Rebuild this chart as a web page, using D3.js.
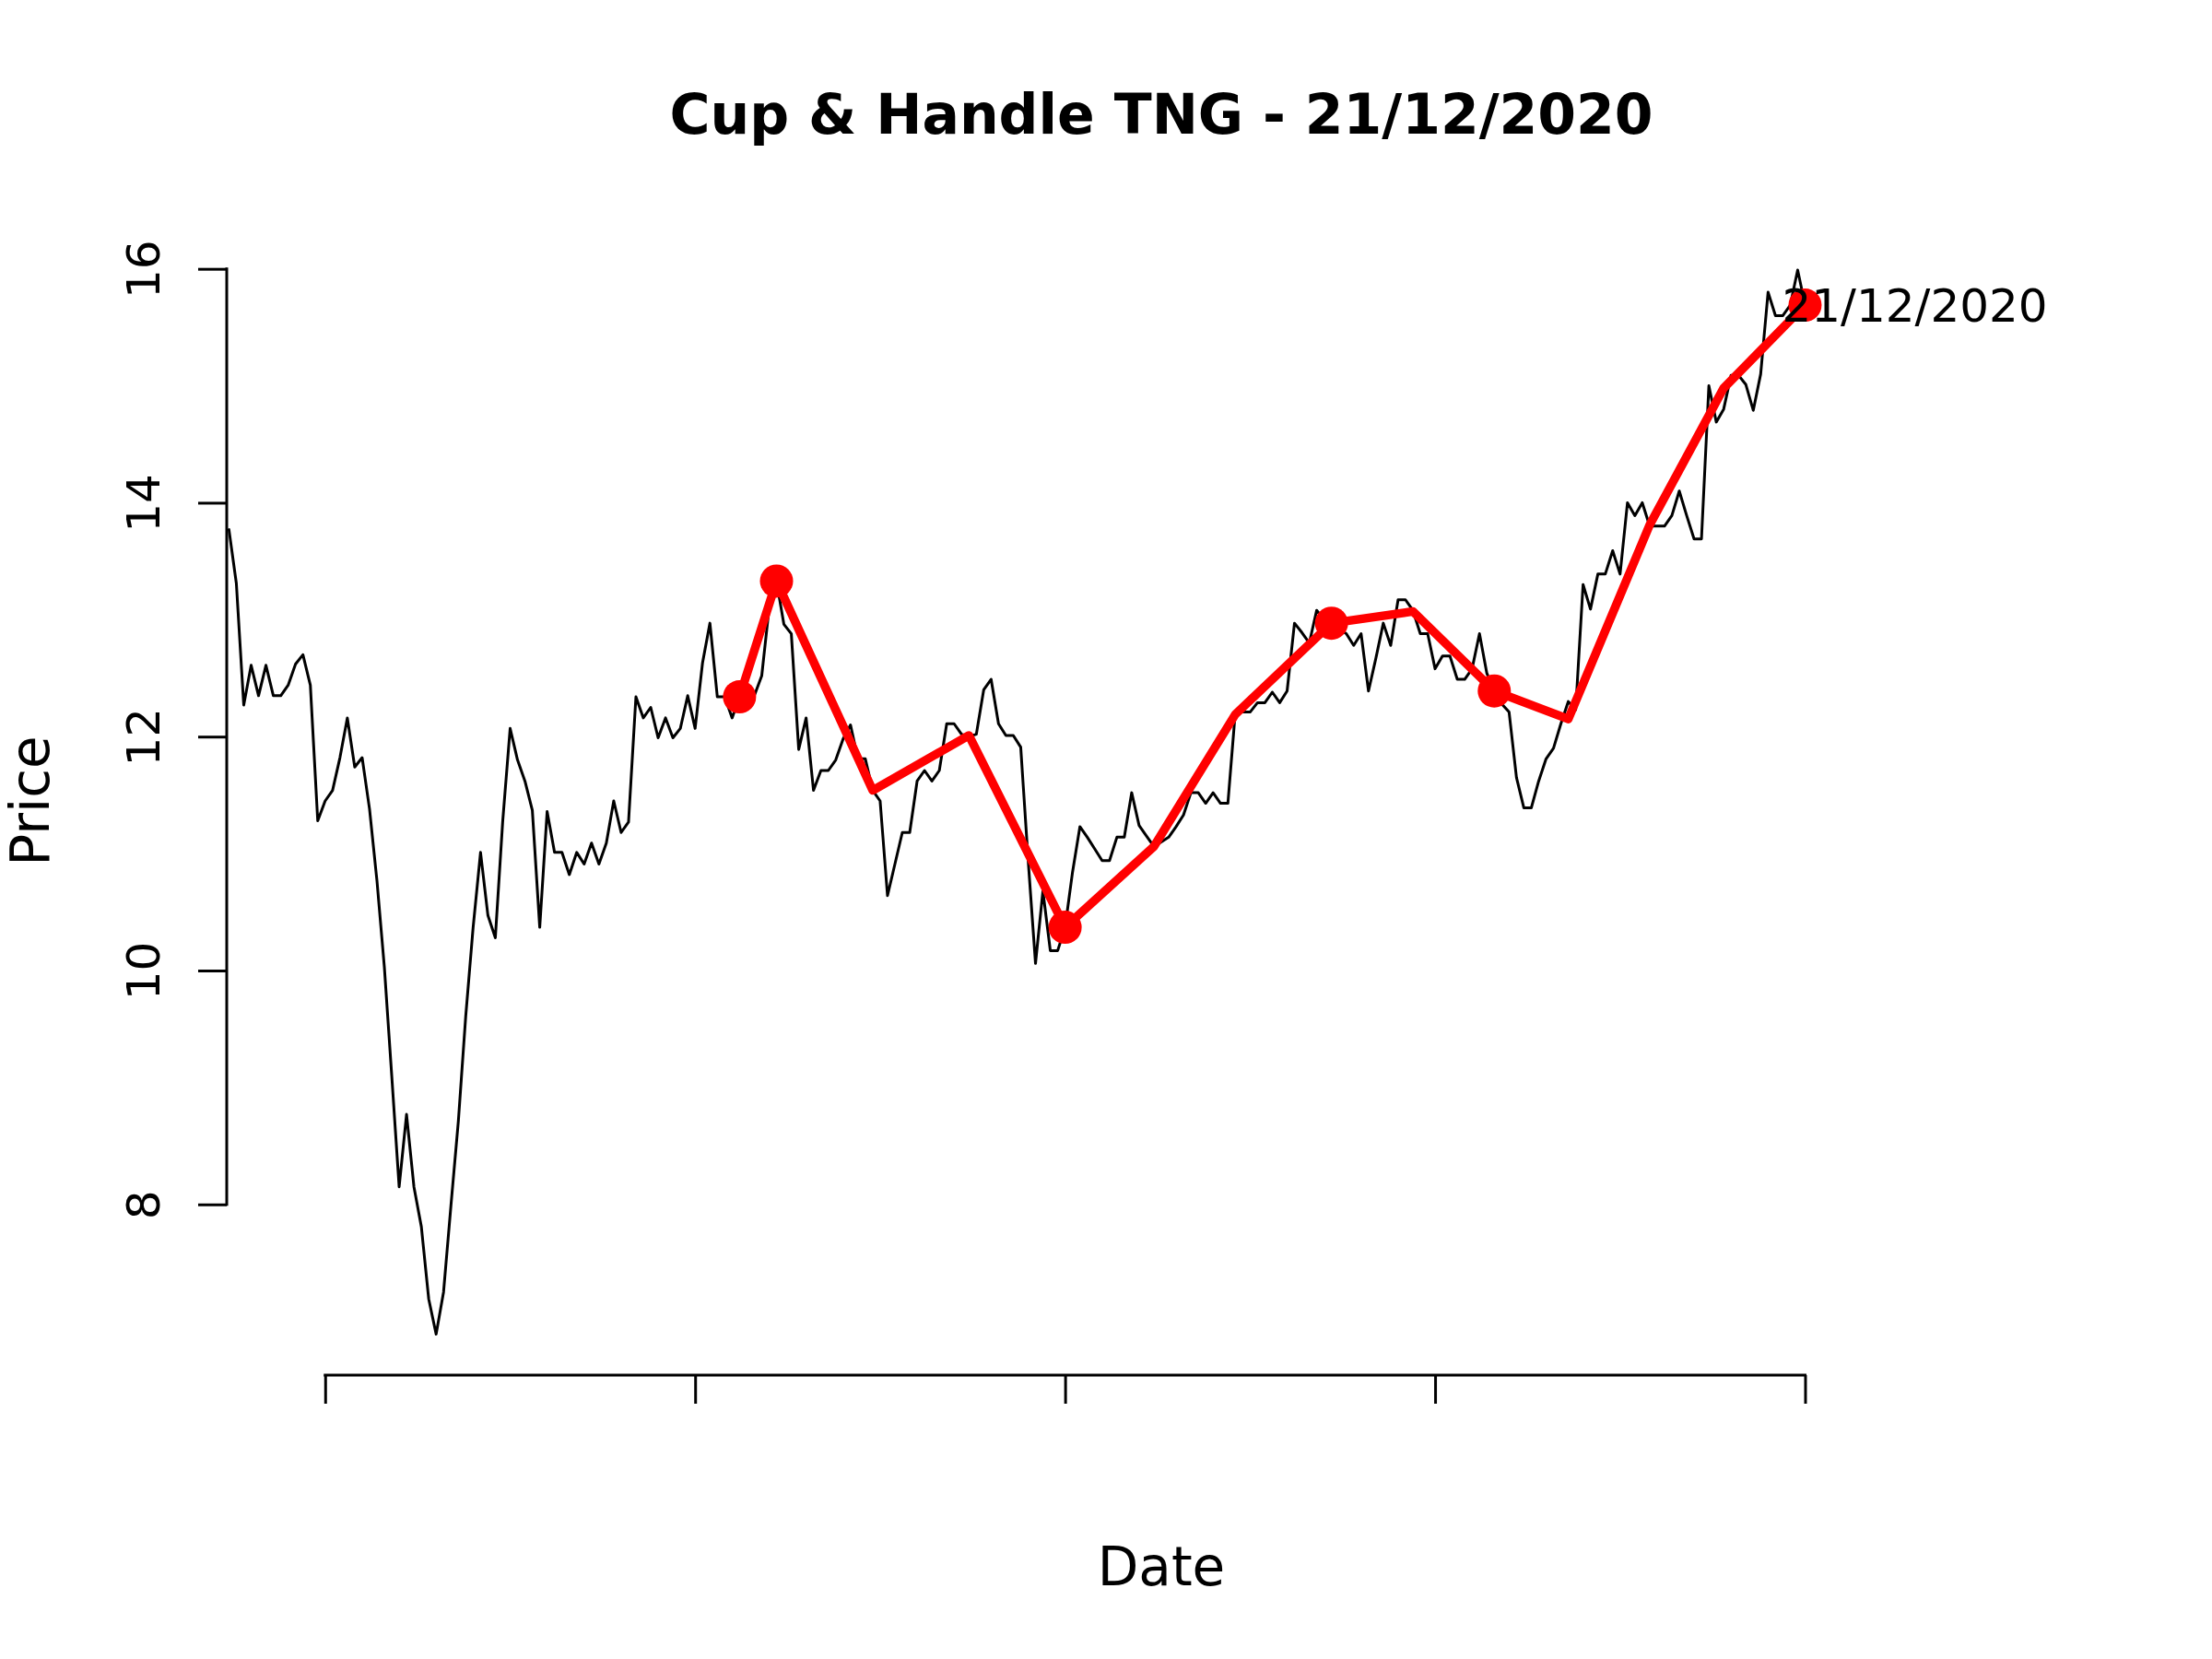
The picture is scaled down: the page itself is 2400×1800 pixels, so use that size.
<!DOCTYPE html>
<html>
<head>
<meta charset="utf-8">
<script src="https://d3js.org/d3.v7.min.js"></script>
<style>
  html, body { margin: 0; padding: 0; background: #ffffff; }
  svg { display: block; }
</style>
</head>
<body>
<script>
// ---------------- data ----------------
const chartTitle = "Cup & Handle TNG - 21/12/2020";
const xLabel = "Date";
const yLabel = "Price";
const endLabel = "21/12/2020";

// daily closing prices, one per trading day (index = day number)
const prices = [
  13.77, 13.31, 12.27, 12.61, 12.35, 12.61, 12.35, 12.35, 12.44, 12.62,
  12.70, 12.44, 11.28, 11.45, 11.54, 11.82, 12.16, 11.74, 11.82, 11.38,
  10.77, 10.03, 9.10, 8.15, 8.77, 8.15, 7.81, 7.19, 6.89, 7.25,
  7.99, 8.71, 9.61, 10.37, 11.01, 10.47, 10.28, 11.28, 12.07, 11.80,
  11.62, 11.37, 10.37, 11.36, 11.01, 11.01, 10.82, 11.01, 10.91, 11.09,
  10.91, 11.09, 11.45, 11.18, 11.27, 12.34, 12.16, 12.25, 11.99, 12.16,
  11.99, 12.07, 12.35, 12.07, 12.63, 12.97, 12.34, 12.34, 12.16, 12.34,
  12.35, 12.35, 12.52, 13.10, 13.33, 12.96, 12.88, 11.89, 12.16, 11.54,
  11.71, 11.71, 11.80, 11.98, 12.10, 11.81, 11.81, 11.54, 11.45, 10.64,
  10.91, 11.18, 11.18, 11.62, 11.71, 11.62, 11.71, 12.11, 12.11, 12.02,
  12.00, 12.02, 12.40, 12.49, 12.11, 12.01, 12.01, 11.91, 10.95, 10.06,
  10.68, 10.17, 10.17, 10.37, 10.84, 11.23, 11.14, 11.04, 10.94, 10.94,
  11.14, 11.14, 11.52, 11.24, 11.15, 11.06, 11.10, 11.14, 11.23, 11.33,
  11.52, 11.52, 11.43, 11.52, 11.43, 11.43, 12.21, 12.21, 12.21, 12.29,
  12.29, 12.38, 12.29, 12.39, 12.97, 12.89, 12.80, 13.08, 13.00, 12.97,
  12.92, 12.88, 12.78, 12.88, 12.39, 12.67, 12.97, 12.78, 13.17, 13.17,
  13.08, 12.88, 12.88, 12.58, 12.69, 12.69, 12.49, 12.49, 12.58, 12.88,
  12.54, 12.39, 12.28, 12.21, 11.65, 11.39, 11.39, 11.62, 11.81, 11.90,
  12.11, 12.30, 12.23, 13.30, 13.09, 13.39, 13.39, 13.59, 13.39, 14.00,
  13.89, 14.00, 13.80, 13.80, 13.80, 13.89, 14.10, 13.89, 13.69, 13.69,
  15.00, 14.69, 14.80, 15.09, 15.09, 15.01, 14.79, 15.10, 15.80, 15.60,
  15.60, 15.69, 15.99, 15.69
];

// cup & handle pattern polyline (day index, price)
const patternDays   = [69, 74, 87, 100, 113, 125, 136, 149, 160, 171, 181, 192, 202, 213];
const patternPrices = [12.34, 13.33, 11.54, 12.01, 10.37, 11.06, 12.19, 12.97, 13.07, 12.39, 12.15, 13.81, 14.98, 15.69];

// pattern points that are marked with a dot
const markerDays   = [69, 74, 113, 149, 171, 213];
const markerPrices = [12.34, 13.33, 10.37, 12.97, 12.39, 15.69];

// axis ticks
const xTickDays = [13, 63, 113, 163, 213];
const yTicks = [8, 10, 12, 14, 16];

// ---------------- layout ----------------
const W = 2400, H = 1800;
const plot = { left: 246, right: 2274, top: 246, bottom: 1492 };
const FONT = "'DejaVu Sans', 'Liberation Sans', sans-serif";

const svg = d3.select("body").append("svg")
  .attr("width", W).attr("height", H)
  .attr("viewBox", `0 0 ${W} ${H}`);
svg.append("rect").attr("width", W).attr("height", H).attr("fill", "#ffffff");

const x = d3.scaleLinear().domain([-0.3, 252.3]).range([plot.left, plot.right]);
const y = d3.scaleLinear().domain([6.54, 16.36]).range([plot.bottom, plot.top]);

// ---------------- price line ----------------
const line = d3.line().x((d, i) => x(i)).y(d => y(d));
svg.append("path")
  .datum(prices)
  .attr("d", line)
  .attr("fill", "none")
  .attr("stroke", "#000000")
  .attr("stroke-width", 3)
  .attr("stroke-linejoin", "round")
  .attr("stroke-linecap", "round");

// ---------------- pattern ----------------
const pattern = patternDays.map((d, i) => [d, patternPrices[i]]);
svg.append("path")
  .datum(pattern)
  .attr("d", d3.line().x(d => x(d[0])).y(d => y(d[1])))
  .attr("fill", "none")
  .attr("stroke", "#ff0000")
  .attr("stroke-width", 9.4)
  .attr("stroke-linejoin", "round")
  .attr("stroke-linecap", "round");

const markers = markerDays.map((d, i) => [d, markerPrices[i]]);
svg.append("g").selectAll("circle")
  .data(markers)
  .join("circle")
  .attr("cx", d => x(d[0]))
  .attr("cy", d => y(d[1]))
  .attr("r", 18)
  .attr("fill", "#ff0000");

// end label
const last = markers[markers.length - 1];
svg.append("text")
  .attr("x", x(last[0]))
  .attr("y", y(last[1]))
  .attr("dx", -25)
  .attr("dy", "0.36em")
  .attr("font-family", FONT)
  .attr("font-size", 50)
  .attr("fill", "#000000")
  .text(endLabel);

// ---------------- axes ----------------
const yAxisG = svg.append("g")
  .attr("transform", `translate(${plot.left},0)`)
  .call(d3.axisLeft(y).tickValues(yTicks).tickSize(31).tickFormat(d3.format("d")));
yAxisG.select(".domain").remove();
yAxisG.selectAll(".tick line").attr("stroke", "#000").attr("stroke-width", 3);
yAxisG.selectAll(".tick text")
  .attr("transform", "rotate(-90)")
  .attr("x", 0)
  .attr("y", -73)
  .attr("dy", 0)
  .attr("text-anchor", "middle")
  .attr("font-family", FONT)
  .attr("font-size", 50)
  .attr("fill", "#000");
yAxisG.append("line")
  .attr("x1", 0).attr("x2", 0)
  .attr("y1", y(yTicks[0])).attr("y2", y(yTicks[yTicks.length - 1]))
  .attr("stroke", "#000").attr("stroke-width", 3).attr("stroke-linecap", "square");

const xAxisG = svg.append("g")
  .attr("transform", `translate(0,${plot.bottom})`)
  .call(d3.axisBottom(x).tickValues(xTickDays).tickSize(31).tickFormat(() => ""));
xAxisG.select(".domain").remove();
xAxisG.selectAll(".tick line").attr("stroke", "#000").attr("stroke-width", 3);
xAxisG.append("line")
  .attr("x1", x(xTickDays[0])).attr("x2", x(xTickDays[xTickDays.length - 1]))
  .attr("y1", 0).attr("y2", 0)
  .attr("stroke", "#000").attr("stroke-width", 3).attr("stroke-linecap", "square");

// ---------------- titles ----------------
const cx = (plot.left + plot.right) / 2;
svg.append("text")
  .attr("x", cx).attr("y", 145)
  .attr("text-anchor", "middle")
  .attr("font-family", FONT)
  .attr("font-weight", "bold")
  .attr("font-size", 60)
  .text(chartTitle);

svg.append("text")
  .attr("x", cx).attr("y", 1720)
  .attr("text-anchor", "middle")
  .attr("font-family", FONT)
  .attr("font-size", 58)
  .text(xLabel);

const cy = (plot.top + plot.bottom) / 2;
svg.append("text")
  .attr("transform", `translate(53,${cy}) rotate(-90)`)
  .attr("text-anchor", "middle")
  .attr("font-family", FONT)
  .attr("font-size", 58)
  .text(yLabel);
</script>
</body>
</html>
